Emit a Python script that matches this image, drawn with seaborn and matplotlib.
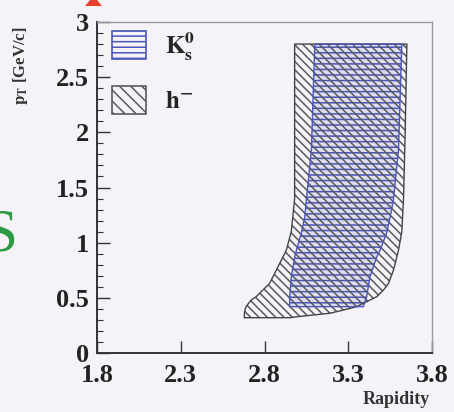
import matplotlib
matplotlib.use("Agg")
import matplotlib.pyplot as plt
import seaborn as sns
import numpy as np
import pandas as pd
from matplotlib.patches import Patch, Polygon
from matplotlib.ticker import MultipleLocator

# ---------------- data ----------------
# h- acceptance: rapidity boundaries versus pT
hm_pt = [0.32, 0.33, 0.36, 0.40, 0.42, 0.48, 0.51, 0.57, 0.63, 0.75, 0.93, 1.10, 1.40, 2.00, 2.80]
hm_left = [2.68, 2.68, 2.68, 2.685, 2.69, 2.72, 2.75, 2.79, 2.83, 2.87, 2.93, 2.96, 2.98, 2.98, 2.98]
hm_right = [2.95, 3.00, 3.19, 3.30, 3.35, 3.43, 3.47, 3.51, 3.54, 3.57, 3.60, 3.62, 3.63, 3.64, 3.65]

# K0s acceptance
k0_pt = [0.42, 0.51, 0.69, 0.87, 0.93, 1.09, 1.23, 1.39, 1.84, 2.80]
k0_left = [2.95, 2.95, 2.96, 2.98, 2.99, 3.02, 3.04, 3.05, 3.08, 3.10]
k0_right = [3.39, 3.41, 3.43, 3.47, 3.49, 3.53, 3.55, 3.57, 3.60, 3.62]

x_ticks = [1.8, 2.3, 2.8, 3.3, 3.8]
x_ticklabels = ["1.8", "2.3", "2.8", "3.3", "3.8"]
y_ticks = [0, 0.5, 1, 1.5, 2, 2.5, 3]
y_ticklabels = ["0", "0.5", "1", "1.5", "2", "2.5", "3"]
labels = [r"$\mathbf{K^0_s}$", r"$\mathbf{h^{-}}$"]

# ---------------- style ----------------
sns.set_theme(style="ticks")
bg = "#f6f3f8"
plt.rcParams["font.family"] = ["Liberation Serif", "DejaVu Serif"]
plt.rcParams["font.weight"] = "bold"
plt.rcParams["mathtext.fontset"] = "stix"
plt.rcParams["hatch.linewidth"] = 1.1

blue = "#4a56b8"
gray = "#5a5a5a"

fig = plt.figure(figsize=(4.54, 4.12), dpi=100, facecolor=bg)
ax = fig.add_axes([0.2137, 0.1432, 0.9515 - 0.2137, 0.9466 - 0.1432])
ax.set_facecolor(bg)

hm_hatch = "\\\\\\\\"
k0_hatch = "---"

# K0s region (underneath, light tint + blue horizontal hatch)
ax.fill_betweenx(k0_pt, k0_left, k0_right, facecolor="#dedcf0", edgecolor=blue,
                 hatch=k0_hatch, linewidth=0, zorder=1.0)
# h- region (diagonal hatch drawn over everything)
ax.fill_betweenx(hm_pt, hm_left, hm_right, facecolor="none", edgecolor=gray,
                 hatch=hm_hatch, linewidth=0, zorder=1.5)

hm_df = pd.DataFrame({"rap": hm_left + hm_right[::-1] + [hm_left[0]],
                      "pt": hm_pt + hm_pt[::-1] + [hm_pt[0]]})
sns.lineplot(data=hm_df, x="rap", y="pt", sort=False, estimator=None,
             color="#444444", linewidth=1.0, ax=ax)
k0_df = pd.DataFrame({"rap": k0_left + k0_right[::-1] + [k0_left[0]],
                      "pt": k0_pt + k0_pt[::-1] + [k0_pt[0]]})
sns.lineplot(data=k0_df, x="rap", y="pt", sort=False, estimator=None,
             color=blue, linewidth=1.0, ax=ax)

ax.set_xlim(1.8, 3.8)
ax.set_ylim(0, 3)
ax.set_xticks(x_ticks)
ax.set_xticklabels(x_ticklabels)
ax.set_yticks(y_ticks)
ax.set_yticklabels(y_ticklabels)
ax.yaxis.set_minor_locator(MultipleLocator(0.1))
ax.set_xlabel("")
ax.set_ylabel("")

for lab in ax.get_xticklabels() + ax.get_yticklabels():
    lab.set_fontsize(19)
    lab.set_fontweight("bold")
    lab.set_color("#222222")
ax.tick_params(axis="both", which="major", direction="in", length=9, width=1.0,
               color="#333333", pad=6)
ax.tick_params(axis="y", which="minor", direction="in", length=4, width=0.8,
               color="#333333")
ax.tick_params(axis="x", pad=8)

ax.spines["left"].set_color("#333333")
ax.spines["bottom"].set_color("#333333")
ax.spines["left"].set_linewidth(1.4)
ax.spines["bottom"].set_linewidth(1.4)
ax.spines["top"].set_color("#9a9a9a")
ax.spines["right"].set_color("#9a9a9a")
ax.spines["top"].set_linewidth(1.0)
ax.spines["right"].set_linewidth(1.0)

handles = [Patch(facecolor="none", edgecolor=blue, hatch=k0_hatch, linewidth=1.2),
           Patch(facecolor="none", edgecolor=gray, hatch="\\\\\\", linewidth=1.2)]
leg = ax.legend(handles, labels, loc="upper left", frameon=False,
                fontsize=18, handlelength=1.36, handleheight=1.3,
                labelspacing=0.95, handletextpad=0.75,
                borderpad=0.0, borderaxespad=0.0,
                bbox_to_anchor=(0.045, 0.976))

fig.text(21 / 454, 1 - 66 / 412, r"$\mathbf{p_T}$ [GeV/c]", rotation=90,
         ha="center", va="center", fontsize=12, fontweight="bold", color="#333333")
fig.text(430 / 454, 1 - 399 / 412, "Rapidity", ha="right", va="center",
         fontsize=13, fontweight="bold", color="#333333")

# slide decoration fragments
fig.text(18 / 454, 1 - 236 / 412, "S", ha="right", va="center", fontsize=44,
         color="#2a9a45", fontweight="normal")
fig.patches.append(Polygon([[85 / 454, 1 - 6 / 412], [102 / 454, 1 - 6 / 412],
                            [97 / 454, 1.0], [90 / 454, 1.0]],
                           closed=True, transform=fig.transFigure,
                           facecolor="#e8402a", edgecolor="none"))

fig.savefig("out.png", dpi=100, facecolor=bg)
